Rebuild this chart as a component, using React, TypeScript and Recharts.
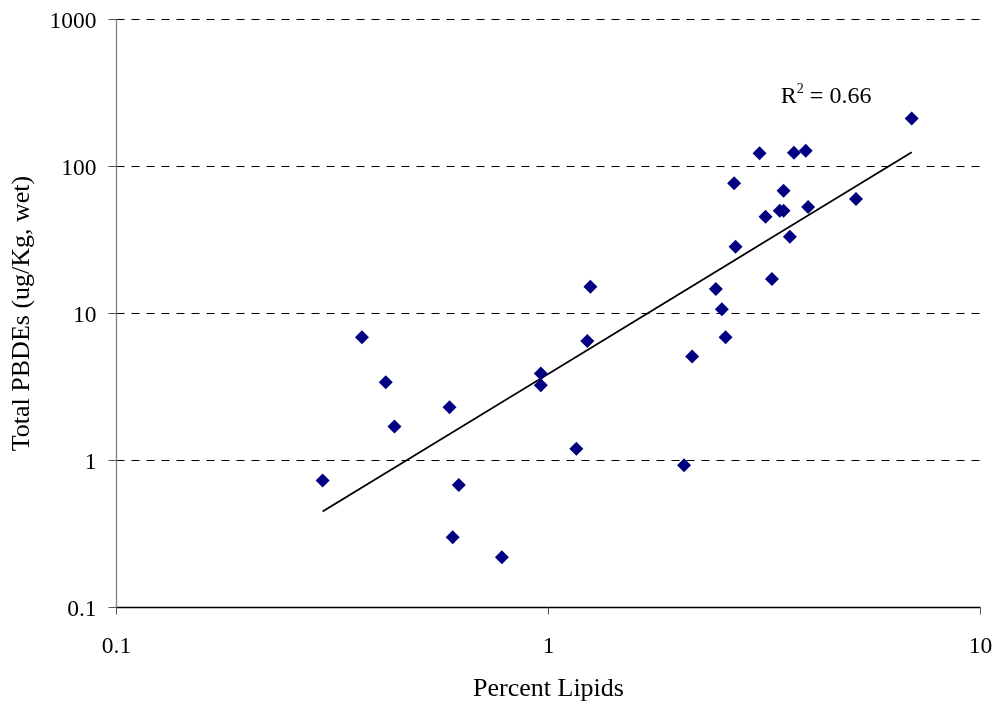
import React from 'react';
import { ScatterChart, Scatter, XAxis, YAxis, CartesianGrid, ReferenceDot } from 'recharts';

// Percent lipids and total PBDE concentration (ug/Kg, wet) per sample
const lipidPercent = [
  0.3, 0.37, 0.42, 0.44, 0.59, 0.6, 0.62, 0.78, 0.96, 0.96, 1.16, 1.23, 1.25,
  2.06, 2.15, 2.44, 2.52, 2.57, 2.71, 2.69, 3.08, 3.18, 3.29, 3.43, 3.5, 3.5,
  3.62, 3.7, 3.94, 3.99, 5.15, 6.93,
];
const totalPbde = [
  0.73, 6.9, 3.4, 1.7, 2.3, 0.3, 0.68, 0.22, 3.9, 3.25, 1.2, 6.5, 15.2,
  0.93, 5.1, 14.7, 10.7, 6.9, 28.5, 77, 123, 45.5, 17.2, 50, 50, 68.5,
  33.3, 124, 128, 53, 60, 212,
];

// Power-law trendline end points
const trendLipid = [0.3, 6.93];
const trendPbde = [0.45, 125];

const xTicks = [0.1, 1, 10];
const yTicks = [0.1, 1, 10, 100, 1000];

// Fit annotation anchor (data units) and value
const r2AnchorLipid = 3.45;
const r2AnchorPbde = 270;
const r2Value = '0.66';

const points = lipidPercent.map((x, i) => ({ x, y: totalPbde[i] }));
const trend = trendLipid.map((x, i) => ({ x, y: trendPbde[i] }));

const FONT = '"Liberation Serif", "Times New Roman", serif';
const NAVY = '#000080';

const Diamond = (props: any) => {
  const { cx, cy } = props;
  const r = 7;
  return (
    <path
      d={`M${cx},${cy - r}L${cx + r},${cy}L${cx},${cy + r}L${cx - r},${cy}Z`}
      fill={NAVY}
    />
  );
};

const NoMarker = () => <g />;

const XTitle = (props: any) => {
  const { x, y, width, height } = props.viewBox;
  return (
    <text x={x + width / 2} y={y + height - 13} textAnchor="middle" fontSize={26} fontFamily={FONT} fill="#000">
      Percent Lipids
    </text>
  );
};

const YTitle = (props: any) => {
  const { y, height } = props.viewBox;
  const cx = 20;
  const cy = y + height / 2;
  return (
    <text
      x={cx}
      y={cy}
      transform={`rotate(-90 ${cx} ${cy})`}
      textAnchor="middle"
      dominantBaseline="central"
      fontSize={26}
      fontFamily={FONT}
      fill="#000"
    >
      Total PBDEs (ug/Kg, wet)
    </text>
  );
};

const R2Label = (props: any) => {
  const { x, y } = props.viewBox;
  return (
    <text x={x} y={y} fontSize={24} fontFamily={FONT} fill="#000">
      <tspan>R</tspan>
      <tspan dy={-10} fontSize={14}>2</tspan>
      <tspan dy={10}>{` = ${r2Value}`}</tspan>
    </text>
  );
};

export default function App() {
  return (
    <div style={{ position: 'fixed', left: 0, top: 0, width: 995, height: 709 }}>
      <ScatterChart width={995} height={709} margin={{ top: 19.5, right: 14.5, bottom: 0, left: 0 }}>
        <CartesianGrid horizontal vertical={false} stroke="#000" strokeDasharray="8 7" />
        <XAxis
          dataKey="x"
          type="number"
          scale="log"
          domain={[0.1, 10]}
          ticks={xTicks}
          allowDataOverflow
          height={101.5}
          axisLine={{ stroke: '#000', strokeWidth: 1.3 }}
          tickLine={{ stroke: '#555' }}
          tickSize={7}
          tickMargin={22}
          tick={{ fill: '#000', fontSize: 23.5, fontFamily: FONT }}
          label={<XTitle />}
        />
        <YAxis
          dataKey="y"
          type="number"
          scale="log"
          domain={[0.1, 1000]}
          ticks={yTicks}
          allowDataOverflow
          width={116.5}
          axisLine={{ stroke: '#808080', strokeWidth: 1.3 }}
          tickLine={{ stroke: '#555' }}
          tickSize={8}
          tickMargin={12}
          tick={{ fill: '#000', fontSize: 23.5, fontFamily: FONT }}
          label={<YTitle />}
        />
        <Scatter data={trend} shape={NoMarker} line={{ stroke: '#000', strokeWidth: 1.8 }} lineType="joint" isAnimationActive={false} />
        <Scatter data={points} shape={Diamond} isAnimationActive={false} />
        <ReferenceDot x={r2AnchorLipid} y={r2AnchorPbde} r={0} stroke="none" fill="none" label={<R2Label />} />
      </ScatterChart>
    </div>
  );
}
